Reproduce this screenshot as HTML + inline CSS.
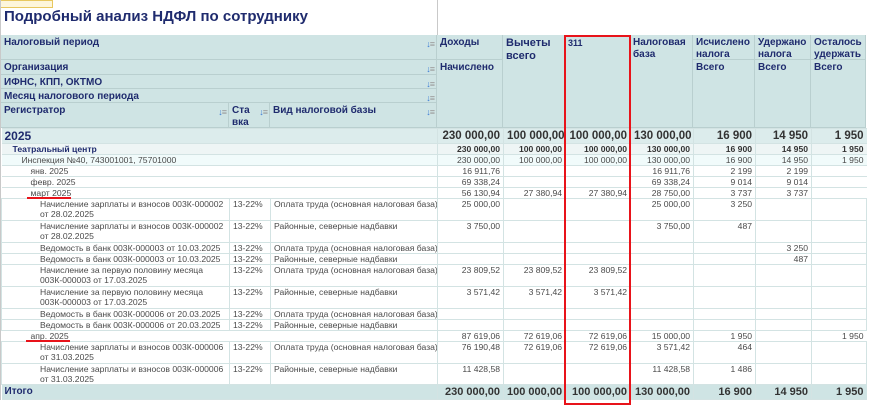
<!DOCTYPE html>
<html><head><meta charset="utf-8"><style>
*{margin:0;padding:0;box-sizing:border-box}
body{width:870px;height:400px;background:#fff;position:relative;overflow:hidden;font-family:"Liberation Sans",sans-serif}
.a{position:absolute}
.h{position:absolute;background:#cfe4e4;border-right:1px solid #b9cfcf;border-bottom:1px solid #b9cfcf;color:#1f2b6e;font-weight:bold;font-size:10px;line-height:12px;padding:2px 3px;overflow:hidden}
.ic{position:absolute;right:2px;top:3px;font-size:9px;color:#3a7bd5;font-weight:normal;letter-spacing:-1px}
.ic span{color:#999}
table{position:absolute;left:1px;top:128px;width:865px;border-collapse:collapse;table-layout:fixed;font-size:8.6px;color:#4a4a4a}
td{border:1px solid #d3e3e3;padding:0 3px;vertical-align:top;line-height:10px;overflow:hidden;white-space:nowrap}
td.n{text-align:right}
tr.g td{border-left:none;border-right:none}
tr.g td.n{border-left:1px solid #d3e3e3}
</style></head><body>
<div class="a" style="left:0;top:0;width:53px;height:8px;background:#fdf6dc;border:1px solid #e8c860"></div>
<div class="a" style="left:0;top:0;width:1px;height:400px;background:#c9c9c9"></div>
<div class="a" style="left:437px;top:0;width:1px;height:36px;background:#c9c9c9"></div>
<div class="a" style="left:4px;top:8px;font-size:15px;font-weight:bold;color:#1f2b6e">Подробный анализ НДФЛ по сотруднику</div>

<div class="h" style="left:1px;top:35px;width:436px;height:25px">Налоговый период<span class="ic">↓<span>≡</span></span></div>
<div class="h" style="left:1px;top:60px;width:436px;height:15px">Организация<span class="ic">↓<span>≡</span></span></div>
<div class="h" style="left:1px;top:75px;width:436px;height:14px">ИФНС, КПП, ОКТМО<span class="ic">↓<span>≡</span></span></div>
<div class="h" style="left:1px;top:89px;width:436px;height:14px">Месяц налогового периода<span class="ic">↓<span>≡</span></span></div>
<div class="h" style="left:1px;top:103px;width:228px;height:25px">Регистратор<span class="ic">↓<span>≡</span></span></div>
<div class="h" style="left:229px;top:103px;width:41px;height:25px">Ста<br>вка<span class="ic">↓<span>≡</span></span></div>
<div class="h" style="left:270px;top:103px;width:167px;height:25px">Вид налоговой базы<span class="ic">↓<span>≡</span></span></div>

<div class="h" style="left:437px;top:35px;width:66px;height:25px">Доходы</div>
<div class="h" style="left:437px;top:60px;width:66px;height:68px">Начислено</div>
<div class="h" style="left:503px;top:35px;width:62px;height:93px;font-size:11px;line-height:13px">Вычеты<br>всего</div>
<div class="h" style="left:565px;top:35px;width:65px;height:93px;font-size:9px">311</div>
<div class="h" style="left:630px;top:35px;width:63px;height:93px">Налоговая<br>база</div>
<div class="h" style="left:693px;top:35px;width:62px;height:25px">Исчислено<br>налога</div>
<div class="h" style="left:693px;top:60px;width:62px;height:68px">Всего</div>
<div class="h" style="left:755px;top:35px;width:56px;height:25px">Удержано<br>налога</div>
<div class="h" style="left:755px;top:60px;width:56px;height:68px">Всего</div>
<div class="h" style="left:811px;top:35px;width:55px;height:25px">Осталось<br>удержать</div>
<div class="h" style="left:811px;top:60px;width:55px;height:68px">Всего</div>

<table>
<colgroup><col style="width:228px"><col style="width:41px"><col style="width:167px"><col style="width:66px"><col style="width:62px"><col style="width:65px"><col style="width:63px"><col style="width:62px"><col style="width:56px"><col style="width:55px"></colgroup>
<tr class="g" style="height:15px;background:#dcecec;font-weight:bold;font-size:11.5px;color:#1f2b6e"><td colspan="3" style="line-height:14px;font-size:12px">2025</td><td class="n" style="color:#333;line-height:14px">230 000,00</td><td class="n" style="color:#333;line-height:14px">100 000,00</td><td class="n" style="color:#333;line-height:14px">100 000,00</td><td class="n" style="color:#333;line-height:14px">130 000,00</td><td class="n" style="color:#333;line-height:14px">16 900</td><td class="n" style="color:#333;line-height:14px">14 950</td><td class="n" style="color:#333;line-height:14px">1 950</td></tr>
<tr class="g" style="height:11px;background:#eef5f5;font-weight:bold;color:#333"><td colspan="3" style="padding-left:11px;color:#1f2b6e">Театральный центр</td><td class="n">230 000,00</td><td class="n">100 000,00</td><td class="n">100 000,00</td><td class="n">130 000,00</td><td class="n">16 900</td><td class="n">14 950</td><td class="n">1 950</td></tr>
<tr class="g" style="height:11px;background:#f1fbfb"><td colspan="3" style="padding-left:20px">Инспекция №40, 743001001, 75701000</td><td class="n">230 000,00</td><td class="n">100 000,00</td><td class="n">100 000,00</td><td class="n">130 000,00</td><td class="n">16 900</td><td class="n">14 950</td><td class="n">1 950</td></tr>
<tr class="g" style="height:11px"><td colspan="3" style="padding-left:29px">янв. 2025</td><td class="n">16 911,76</td><td class="n"></td><td class="n"></td><td class="n">16 911,76</td><td class="n">2 199</td><td class="n">2 199</td><td class="n"></td></tr>
<tr class="g" style="height:11px"><td colspan="3" style="padding-left:29px">февр. 2025</td><td class="n">69 338,24</td><td class="n"></td><td class="n"></td><td class="n">69 338,24</td><td class="n">9 014</td><td class="n">9 014</td><td class="n"></td></tr>
<tr class="g" style="height:11px"><td colspan="3" style="padding-left:29px">март 2025</td><td class="n">56 130,94</td><td class="n">27 380,94</td><td class="n">27 380,94</td><td class="n">28 750,00</td><td class="n">3 737</td><td class="n">3 737</td><td class="n"></td></tr>
<tr style="height:22px"><td style="padding-left:38px">Начисление зарплаты и взносов 003К-000002<br>от 28.02.2025</td><td>13-22%</td><td>Оплата труда (основная налоговая база)</td><td class="n">25 000,00</td><td></td><td></td><td class="n">25 000,00</td><td class="n">3 250</td><td></td><td></td></tr>
<tr style="height:22px"><td style="padding-left:38px">Начисление зарплаты и взносов 003К-000002<br>от 28.02.2025</td><td>13-22%</td><td>Районные, северные надбавки</td><td class="n">3 750,00</td><td></td><td></td><td class="n">3 750,00</td><td class="n">487</td><td></td><td></td></tr>
<tr style="height:11px"><td style="padding-left:38px">Ведомость в банк 003К-000003 от 10.03.2025</td><td>13-22%</td><td>Оплата труда (основная налоговая база)</td><td></td><td></td><td></td><td></td><td></td><td class="n">3 250</td><td></td></tr>
<tr style="height:11px"><td style="padding-left:38px">Ведомость в банк 003К-000003 от 10.03.2025</td><td>13-22%</td><td>Районные, северные надбавки</td><td></td><td></td><td></td><td></td><td></td><td class="n">487</td><td></td></tr>
<tr style="height:22px"><td style="padding-left:38px">Начисление за первую половину месяца<br>003К-000003 от 17.03.2025</td><td>13-22%</td><td>Оплата труда (основная налоговая база)</td><td class="n">23 809,52</td><td class="n">23 809,52</td><td class="n">23 809,52</td><td></td><td></td><td></td><td></td></tr>
<tr style="height:22px"><td style="padding-left:38px">Начисление за первую половину месяца<br>003К-000003 от 17.03.2025</td><td>13-22%</td><td>Районные, северные надбавки</td><td class="n">3 571,42</td><td class="n">3 571,42</td><td class="n">3 571,42</td><td></td><td></td><td></td><td></td></tr>
<tr style="height:11px"><td style="padding-left:38px">Ведомость в банк 003К-000006 от 20.03.2025</td><td>13-22%</td><td>Оплата труда (основная налоговая база)</td><td></td><td></td><td></td><td></td><td></td><td></td><td></td></tr>
<tr style="height:11px"><td style="padding-left:38px">Ведомость в банк 003К-000006 от 20.03.2025</td><td>13-22%</td><td>Районные, северные надбавки</td><td></td><td></td><td></td><td></td><td></td><td></td><td></td></tr>
<tr class="g" style="height:11px"><td colspan="3" style="padding-left:29px">апр. 2025</td><td class="n">87 619,06</td><td class="n">72 619,06</td><td class="n">72 619,06</td><td class="n">15 000,00</td><td class="n">1 950</td><td class="n"></td><td class="n">1 950</td></tr>
<tr style="height:22px"><td style="padding-left:38px">Начисление зарплаты и взносов 003К-000006<br>от 31.03.2025</td><td>13-22%</td><td>Оплата труда (основная налоговая база)</td><td class="n">76 190,48</td><td class="n">72 619,06</td><td class="n">72 619,06</td><td class="n">3 571,42</td><td class="n">464</td><td></td><td></td></tr>
<tr style="height:21px"><td style="padding-left:38px">Начисление зарплаты и взносов 003К-000006<br>от 31.03.2025</td><td>13-22%</td><td>Районные, северные надбавки</td><td class="n">11 428,58</td><td></td><td></td><td class="n">11 428,58</td><td class="n">1 486</td><td></td><td></td></tr>
<tr class="g" style="height:15px;background:#cfe4e4;font-weight:bold;font-size:11px;color:#333"><td colspan="3" style="color:#1f2b6e;font-size:10px;line-height:14px">Итого</td><td class="n" style="line-height:14px">230 000,00</td><td class="n" style="line-height:14px">100 000,00</td><td class="n" style="line-height:14px">100 000,00</td><td class="n" style="line-height:14px">130 000,00</td><td class="n" style="line-height:14px">16 900</td><td class="n" style="line-height:14px">14 950</td><td class="n" style="line-height:14px">1 950</td></tr>
</table>

<div class="a" style="left:564px;top:35px;width:67px;height:370px;border:2px solid #e8131a"></div>
<div class="a" style="left:27px;top:197px;width:44px;height:2px;background:#e8131a"></div>
<div class="a" style="left:26px;top:340px;width:44px;height:2px;background:#e8131a"></div>
</body></html>
